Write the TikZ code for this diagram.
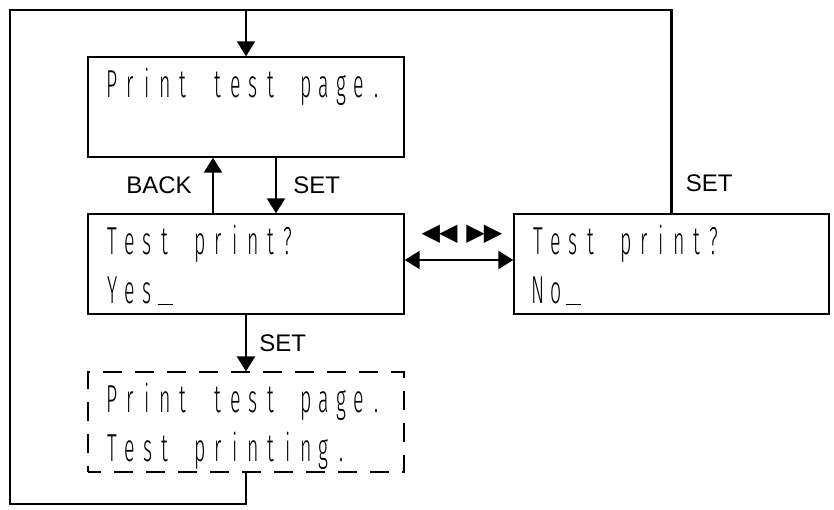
\documentclass[tikz,border=0pt]{standalone}
\usepackage{fontspec}
\setmainfont{Liberation Sans}
\newfontfamily\lcdfont{Fira Sans Light}[FakeStretch=0.5]
\newfontfamily\symfont{DejaVu Sans}
\usetikzlibrary{arrows.meta,positioning}

% one fixed cell per character, as on the display
\ExplSyntaxOn
\dim_new:N \l_lcd_pitch_dim
\dim_set:Nn \l_lcd_pitch_dim {17.6pt}
\cs_new:Npn \lcd_cell:n #1 { \hbox_to_wd:nn { \l_lcd_pitch_dim } { \hfil #1 \hfil } }
\NewDocumentCommand \lcd { m } { \str_map_function:nN {#1} \lcd_cell:n }
\NewDocumentCommand \cursor { } { \lcd_cell:n { \rule[-2pt]{15pt}{1.8pt} } }
\ExplSyntaxOff

\tikzset{
  lcdbox/.style={draw,line width=1.4pt,minimum width=316pt,minimum height=100pt,inner sep=0pt},
  lcdtext/.style={font=\lcdfont\fontsize{39}{49}\selectfont,inner sep=0pt,anchor=base west},
  keylabel/.style={font=\fontsize{24}{24}\selectfont,inner sep=0pt},
  flow/.style={line width=2.5pt},
}

\begin{document}
\begin{tikzpicture}[x=1pt,y=1pt,>={Triangle[length=15pt,width=18pt]}]
  \useasboundingbox (0,0) rectangle (834,509);
  % display boxes
  \node[lcdbox] (b1) at (246,402) {};
  \node[lcdbox] (b2) at (246,245) {};
  \node[lcdbox,minimum width=315pt] (b3) at (671.5,245) {};
  \node[lcdbox,dash pattern=on 19pt off 13pt,dash phase=6pt,line width=1.2pt] (b4) at (246,87) {};
  % display texts
  \node[lcdtext] (t1) at ([shift={(16pt,-41pt)}]b1.north west) {\lcd{Print test page.}};
  \node[lcdtext] (t2a) at ([shift={(16pt,-41pt)}]b2.north west) {\lcd{Test print?}};
  \node[lcdtext] (t2b) at ([shift={(16pt,-90pt)}]b2.north west) {\lcd{Yes}\cursor};
  \node[lcdtext] (t3a) at ([shift={(16pt,-41pt)}]b3.north west) {\lcd{Test print?}};
  \node[lcdtext] (t3b) at ([shift={(16pt,-90pt)}]b3.north west) {\lcd{No}\cursor};
  \node[lcdtext] (t4a) at ([shift={(16pt,-41pt)}]b4.north west) {\lcd{Print test page.}};
  \node[lcdtext] (t4b) at ([shift={(16pt,-90pt)}]b4.north west) {\lcd{Test printing.}};
  % loop corners
  \coordinate (bl) at (10,5);
  \coordinate (tl) at (10,499);
  \coordinate (tr) at (b3.north |- tl);
  % outer loop
  \draw[flow,line join=miter] (b4.south) |- (bl) -- (tl) -- (tr) -- (b3.north)
    node[keylabel,pos=0.85,right=13pt] (s3) {SET};
  \draw[flow,->] (b1.north |- tl) -- (b1.north);
  % back and set
  \draw[flow,->] ([xshift=-33pt]b2.north) -- ([xshift=-33pt]b1.south)
    node[keylabel,midway,left=20pt] (back) {BACK};
  \draw[flow,->] ([xshift=30pt]b1.south) -- ([xshift=30pt]b2.north)
    node[keylabel,midway,right=16pt] (s1) {SET};
  \draw[flow,->] (b2.south) -- (b4.north)
    node[keylabel,midway,right=12pt] (s2) {SET};
  % left/right keys
  \draw[flow,<->] ([yshift=4pt]b2.east) -- ([yshift=4pt]b2.east -| b3.west);
  \node[font=\symfont\fontsize{24}{24}\selectfont,inner sep=0pt] (keys) at (462,275)
    {◀\kern-1pt◀\hspace{9pt}▶\kern-1pt▶};
\end{tikzpicture}
\end{document}
